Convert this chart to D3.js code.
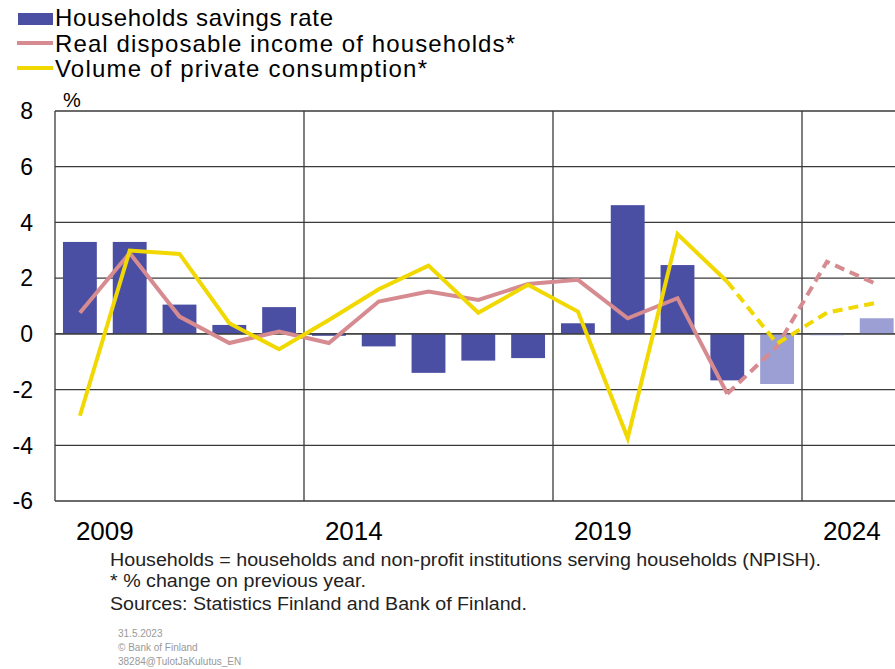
<!DOCTYPE html>
<html>
<head>
<meta charset="utf-8">
<script src="https://cdn.jsdelivr.net/npm/d3@7"></script>
<style>
  body { margin: 0; background: #fff; }
  svg { display: block; font-family: "Liberation Sans", Arial, sans-serif; }
</style>
</head>
<body>
<svg id="chart"></svg>
<script>
// Data
const years = [2009, 2010, 2011, 2012, 2013, 2014, 2015, 2016, 2017, 2018, 2019, 2020, 2021, 2022, 2023, 2024, 2025];
const savingsRate = [3.3, 3.3, 1.05, 0.32, 0.96, -0.07, -0.45, -1.4, -0.96, -0.87, 0.38, 4.62, 2.47, -1.67, -1.8, -0.05, 0.56];
const disposableIncome = [0.76, 2.9, 0.62, -0.33, 0.08, -0.33, 1.16, 1.52, 1.22, 1.79, 1.94, 0.56, 1.28, -2.15, -0.45, 2.59, 1.78];
const privateConsumption = [-2.94, 2.99, 2.87, 0.38, -0.55, 0.5, 1.6, 2.45, 0.76, 1.76, 0.8, -3.74, 3.58, 1.87, -0.35, 0.76, 1.12];
const firstForecastYear = 2023;
const yTicks = [-6, -4, -2, 0, 2, 4, 6, 8];
const xLabels = [2009, 2014, 2019, 2024];
const gridYears = [2014, 2019, 2024];

const width = 895, height = 669;
const plotLeft = 55, plotTop = 111, plotBottom = 501;
const step = 49.8;

const c = {
  bar: '#4b4fa3',
  barLight: '#9c9fd3',
  income: '#d68b91',
  consumption: '#f0d800',
  grid: '#3a3a3a'
};

const svg = d3.select('#chart')
  .attr('width', width)
  .attr('height', height)
  .attr('viewBox', [0, 0, width, height]);

const x = d3.scaleBand()
  .domain(years)
  .range([plotLeft, plotLeft + years.length * step])
  .paddingInner(0.32)
  .paddingOuter(0.16);

const y = d3.scaleLinear()
  .domain([-6, 8])
  .range([plotBottom, plotTop]);

const cx = yr => x(yr) + x.bandwidth() / 2;
const slotStart = yr => x(yr) - x.step() * 0.16;
const plotRight = plotLeft + years.length * step;

// horizontal grid
svg.append('g')
  .selectAll('line')
  .data(yTicks)
  .join('line')
  .attr('x1', plotLeft).attr('x2', plotRight)
  .attr('y1', d => y(d)).attr('y2', d => y(d))
  .attr('stroke', c.grid)
  .attr('stroke-width', 1.3);

// vertical grid lines at 5-year boundaries
svg.append('g')
  .selectAll('line')
  .data(gridYears)
  .join('line')
  .attr('x1', d => slotStart(d)).attr('x2', d => slotStart(d))
  .attr('y1', y(8)).attr('y2', y(-6))
  .attr('stroke', c.grid)
  .attr('stroke-width', 1.3);

// left axis line
svg.append('line')
  .attr('x1', plotLeft).attr('x2', plotLeft)
  .attr('y1', y(8)).attr('y2', y(-6))
  .attr('stroke', c.grid)
  .attr('stroke-width', 1.3);

// bars
svg.append('g')
  .selectAll('rect')
  .data(years.map((yr, i) => ({ yr, v: savingsRate[i] })))
  .join('rect')
  .attr('x', d => x(d.yr))
  .attr('width', x.bandwidth())
  .attr('y', d => y(Math.max(0, d.v)))
  .attr('height', d => Math.abs(y(d.v) - y(0)))
  .attr('fill', d => d.yr >= firstForecastYear ? c.barLight : c.bar);

// zero line over bars
svg.append('line')
  .attr('x1', plotLeft).attr('x2', plotRight)
  .attr('y1', y(0)).attr('y2', y(0))
  .attr('stroke', c.grid)
  .attr('stroke-width', 1.3);

// lines: solid history, dashed forecast
const line = d3.line().x(d => cx(d.yr)).y(d => y(d.v));
function drawSeries(values, color) {
  const pts = years.map((yr, i) => ({ yr, v: values[i] }));
  const hist = pts.filter(d => d.yr <= firstForecastYear - 1);
  const fc = pts.filter(d => d.yr >= firstForecastYear - 1);
  svg.append('path').datum(hist)
    .attr('d', line)
    .attr('fill', 'none')
    .attr('stroke', color)
    .attr('stroke-width', 4)
    .attr('stroke-linejoin', 'miter');
  svg.append('path').datum(fc)
    .attr('d', line)
    .attr('fill', 'none')
    .attr('stroke', color)
    .attr('stroke-width', 4)
    .attr('stroke-dasharray', '10 6');
}
drawSeries(disposableIncome, c.income);
drawSeries(privateConsumption, c.consumption);

// y tick labels
svg.append('g')
  .selectAll('text')
  .data(yTicks)
  .join('text')
  .attr('x', 33)
  .attr('y', d => y(d))
  .attr('dy', '0.36em')
  .attr('text-anchor', 'end')
  .attr('font-size', 23)
  .text(d => d);

svg.append('text')
  .attr('x', 63).attr('y', 107)
  .attr('font-size', 20)
  .text('%');

// x labels
svg.append('g')
  .selectAll('text')
  .data(xLabels)
  .join('text')
  .attr('x', d => slotStart(d) + x.step())
  .attr('y', 540)
  .attr('text-anchor', 'middle')
  .attr('font-size', 26)
  .text(d => d);

// legend
const legend = svg.append('g');
legend.append('rect')
  .attr('x', 18).attr('y', 13).attr('width', 35).attr('height', 12)
  .attr('fill', c.bar);
legend.append('line')
  .attr('x1', 17).attr('x2', 53).attr('y1', 43).attr('y2', 43)
  .attr('stroke', c.income).attr('stroke-width', 4);
legend.append('line')
  .attr('x1', 17).attr('x2', 53).attr('y1', 68).attr('y2', 68)
  .attr('stroke', c.consumption).attr('stroke-width', 4);
const legendLabels = ['Households savings rate', 'Real disposable income of households*', 'Volume of private consumption*'];
const legendWidths = [278, 460, 372];
legend.selectAll('text.lg')
  .data(legendLabels)
  .join('text')
  .attr('class', 'lg')
  .attr('x', 55)
  .attr('y', (d, i) => 26 + i * 25.5)
  .attr('font-size', 24)
  .attr('textLength', (d, i) => legendWidths[i])
  .attr('lengthAdjust', 'spacing')
  .text(d => d);

// footnotes
const notes = [
  { t: 'Households = households and non-profit institutions serving households (NPISH).', w: 711, y: 566 },
  { t: '* % change on previous year.', w: 256, y: 587 },
  { t: 'Sources: Statistics Finland and Bank of Finland.', w: 417, y: 610 }
];
svg.append('g')
  .selectAll('text')
  .data(notes)
  .join('text')
  .attr('x', 110)
  .attr('y', d => d.y)
  .attr('font-size', 17.5)
  .attr('fill', '#222')
  .attr('textLength', d => d.w)
  .attr('lengthAdjust', 'spacingAndGlyphs')
  .text(d => d.t);

const small = ['31.5.2023', '\u00a9 Bank of Finland', '38284@TulotJaKulutus_EN'];
svg.append('g')
  .selectAll('text')
  .data(small)
  .join('text')
  .attr('x', 118)
  .attr('y', (d, i) => 637 + i * 14)
  .attr('font-size', 10)
  .attr('fill', '#999')
  .text(d => d);
</script>
</body>
</html>
